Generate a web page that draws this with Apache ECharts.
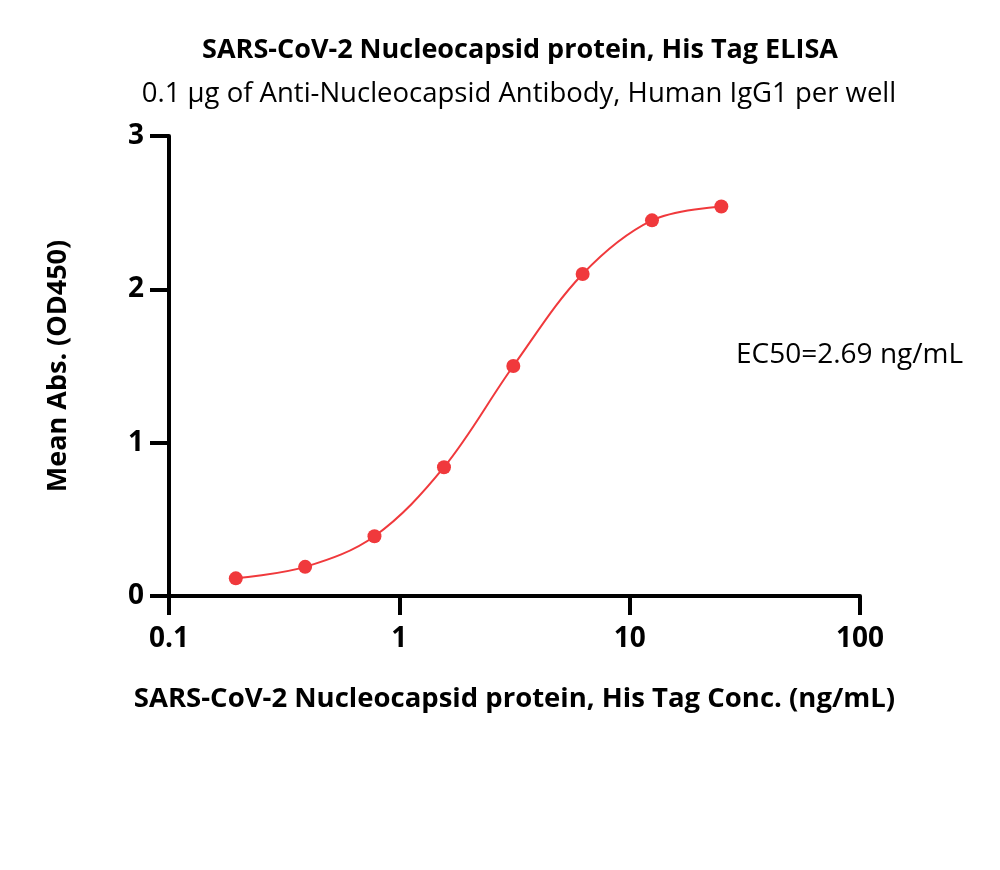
<!DOCTYPE html>
<html>
<head>
<meta charset="utf-8">
<script src="https://cdn.jsdelivr.net/npm/echarts@6/dist/echarts.min.js"></script>
<style>
html,body{margin:0;padding:0;background:#fff;}
#chart{width:1000px;height:870px;}
</style>
</head>
<body>
<div id="chart"></div>
<script>
// Data
const concentrations = [0.195, 0.39, 0.78, 1.5625, 3.125, 6.25, 12.5, 25];
const meanAbs = [0.115, 0.19, 0.39, 0.84, 1.50, 2.10, 2.45, 2.54];
const xTickLabels = ['0.1', '1', '10', '100'];
const yTickLabels = ['0', '1', '2', '3'];
const titleText = 'SARS-CoV-2 Nucleocapsid protein, His Tag ELISA';
const subtitleText = '0.1 µg of Anti-Nucleocapsid Antibody, Human IgG1 per well';
const xAxisTitle = 'SARS-CoV-2 Nucleocapsid protein, His Tag Conc. (ng/mL)';
const yAxisTitle = 'Mean Abs. (OD450)';
const ec50Text = 'EC50=2.69 ng/mL';

const FONT = 'Open Sans';
const RED = '#F0393C';
const seriesData = concentrations.map((c, i) => [c, meanAbs[i]]);

const chart = echarts.init(document.getElementById('chart'), null, {renderer: 'canvas'});
chart.setOption({
  backgroundColor: '#ffffff',
  animation: false,
  title: [
    {text: titleText, left: 515, top: 32, textAlign: 'center',
     textStyle: {fontFamily: FONT, fontSize: 27, fontWeight: 'bold', color: '#000'}},
    {text: subtitleText, left: 514, top: 75, textAlign: 'center',
     textStyle: {fontFamily: FONT, fontSize: 27.5, fontWeight: 'normal', color: '#000'}}
  ],
  grid: {left: 169, right: 140, top: 136, bottom: 274, containLabel: false},
  xAxis: {
    type: 'log', logBase: 10, min: 0.1, max: 100,
    name: xAxisTitle, nameLocation: 'middle', nameGap: 89,
    nameTextStyle: {fontFamily: FONT, fontSize: 27.5, fontWeight: 'bold', color: '#000'},
    axisLine: {show: true, onZero: false, lineStyle: {color: '#000', width: 4}},
    axisTick: {show: true, length: 19, lineStyle: {color: '#000', width: 4}},
    minorTick: {show: false},
    splitLine: {show: false},
    axisLabel: {
      fontFamily: FONT, fontSize: 28, fontWeight: 'bold', color: '#000', margin: 29,
      formatter: v => xTickLabels[Math.round(Math.log10(v)) + 1]
    }
  },
  yAxis: {
    type: 'value', min: 0, max: 3, interval: 1,
    name: yAxisTitle, nameLocation: 'middle', nameGap: 97, nameRotate: 90,
    nameTextStyle: {fontFamily: FONT, fontSize: 27, fontWeight: 'bold', color: '#000'},
    axisLine: {show: true, onZero: false, lineStyle: {color: '#000', width: 4}},
    axisTick: {show: true, length: 19, lineStyle: {color: '#000', width: 4}},
    splitLine: {show: false},
    axisLabel: {
      fontFamily: FONT, fontSize: 28, fontWeight: 'bold', color: '#000', margin: 25,
      formatter: v => yTickLabels[Math.round(v)]
    }
  },
  graphic: [
    {type: 'text', left: 736, top: 341,
     style: {text: ec50Text, fontFamily: FONT, fontSize: 28, fill: '#000'}}
  ],
  series: [{
    type: 'line',
    data: seriesData,
    smooth: 0.35,
    symbol: 'circle',
    symbolSize: 14,
    lineStyle: {color: RED, width: 2},
    itemStyle: {color: RED},
    z: 3
  }]
});
</script>
</body>
</html>
